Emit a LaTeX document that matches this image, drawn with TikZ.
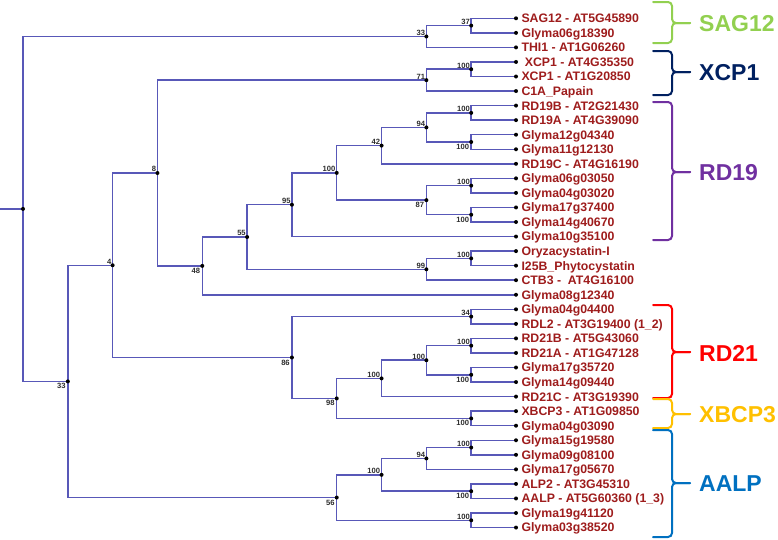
\documentclass[tikz,border=0pt]{standalone}
\usepackage{fontspec}
\setmainfont{Liberation Sans}
\definecolor{treeblue}{RGB}{88,88,184}
\definecolor{labred}{RGB}{158,28,28}
\definecolor{bsgray}{RGB}{45,45,45}
\definecolor{cSAG}{RGB}{146,208,80}
\definecolor{cXCP}{RGB}{0,32,96}
\definecolor{cRD19}{RGB}{112,48,160}
\definecolor{cRD21}{RGB}{255,0,0}
\definecolor{cXBCP}{RGB}{255,192,0}
\definecolor{cAALP}{RGB}{0,112,192}
\begin{document}
\begin{tikzpicture}[x=1pt,y=-1pt,
  edge/.style={line width=1.5pt, draw=treeblue},
  leaflab/.style={anchor=base west, inner sep=0pt, text=labred, font=\fontsize{12.3}{14}\selectfont\bfseries},
  bsal/.style={anchor=south east, inner sep=0pt, xshift=-1.2pt, yshift=0.8pt, text=bsgray, font=\fontsize{7.6}{8}\selectfont\bfseries},
  bsbl/.style={anchor=north east, inner sep=0pt, xshift=-2pt, yshift=-2pt, text=bsgray, font=\fontsize{7.6}{8}\selectfont\bfseries},
  brace/.style={line width=2pt, rounded corners=4pt, line cap=round},
  grouplab/.style={anchor=west, inner sep=0pt, font=\fontsize{23}{26}\selectfont\bfseries}
]
\useasboundingbox (0,0) rectangle (778,539);

% leaves
\foreach \i/\t in {
 1/{SAG12 - AT5G45890}, 2/{Glyma06g18390}, 3/{THI1 - AT1G06260},
 4/{\hspace{3.3pt}XCP1 - AT4G35350}, 5/{XCP1 - AT1G20850}, 6/{C1A\_Papain},
 7/{RD19B - AT2G21430}, 8/{RD19A - AT4G39090}, 9/{Glyma12g04340},
 10/{Glyma11g12130}, 11/{RD19C - AT4G16190}, 12/{Glyma06g03050},
 13/{Glyma04g03020}, 14/{Glyma17g37400}, 15/{Glyma14g40670},
 16/{Glyma10g35100}, 17/{Oryzacystatin-I}, 18/{I25B\_Phytocystatin},
 19/{CTB3 -\ \ AT4G16100}, 20/{Glyma08g12340}, 21/{Glyma04g04400},
 22/{RDL2 - AT3G19400 (1\_2)}, 23/{RD21B - AT5G43060}, 24/{RD21A - AT1G47128},
 25/{Glyma17g35720}, 26/{Glyma14g09440}, 27/{RD21C - AT3G19390},
 28/{XBCP3 - AT1G09850}, 29/{Glyma04g03090}, 30/{Glyma15g19580},
 31/{Glyma09g08100}, 32/{Glyma17g05670}, 33/{ALP2 - AT3G45310},
 34/{AALP - AT5G60360 (1\_3)}, 35/{Glyma19g41120}, 36/{Glyma03g38520}}{
  \coordinate (L\i) at (516,{18.3+(\i-1)*14.55});
  \node[leaflab] (T\i) at ([shift={(5.3pt,-4.4pt)}]L\i) {\t};
}

% internal nodes
\coordinate (rin) at (0,208.9);
\coordinate (root) at (23,208.9);
\coordinate (b33) at (67.82,381.4);
\coordinate (a4) at (112.64,265.25);
\coordinate (a8) at (157.46,173.01);
\coordinate (a48) at (202.28,265.88);
\coordinate (a55) at (247.1,237.0);
\coordinate (a95) at (291.92,204.72);
\coordinate (a86) at (291.92,357.5);
\coordinate (g100) at (336.74,172.89);
\coordinate (a98) at (336.74,398.42);
\coordinate (a56) at (336.74,497.54);
\coordinate (a42) at (381.56,145.61);
\coordinate (l100) at (381.56,378.41);
\coordinate (p100) at (381.56,474.81);
\coordinate (a33) at (426.38,36.49);
\coordinate (a71) at (426.38,80.14);
\coordinate (a94) at (426.38,127.425);
\coordinate (a87) at (426.38,200.175);
\coordinate (a99) at (426.38,269.29);
\coordinate (k100) at (426.38,360.225);
\coordinate (b94) at (426.38,458.44);
\coordinate (a37) at (471.2,25.575);
\coordinate (b100) at (471.2,69.225);
\coordinate (c100) at (471.2,112.875);
\coordinate (d100) at (471.2,141.975);
\coordinate (e100) at (471.2,185.625);
\coordinate (f100) at (471.2,214.725);
\coordinate (h100) at (471.2,258.375);
\coordinate (a34) at (471.2,316.575);
\coordinate (i100) at (471.2,345.675);
\coordinate (j100) at (471.2,374.775);
\coordinate (m100) at (471.2,418.425);
\coordinate (n100) at (471.2,447.525);
\coordinate (o100) at (471.2,491.175);
\coordinate (q100) at (471.2,520.275);

% edges
\draw[edge] (rin) -- (root);
\foreach \p/\c in {root/a33, root/b33, a33/a37, a33/L3, a37/L1, a37/L2,
  b33/a4, b33/a56, a4/a8, a4/a86, a8/a71, a8/a48, a71/b100, a71/L6,
  b100/L4, b100/L5, a48/a55, a48/L20, a55/a95, a55/a99, a95/g100, a95/L16,
  g100/a42, g100/a87, a42/a94, a42/L11, a94/c100, a94/d100, c100/L7, c100/L8,
  d100/L9, d100/L10, a87/e100, a87/f100, e100/L12, e100/L13, f100/L14, f100/L15,
  a99/h100, a99/L19, h100/L17, h100/L18, a86/a34, a86/a98, a34/L21, a34/L22,
  a98/l100, a98/m100, l100/k100, l100/L27, k100/i100, k100/j100,
  i100/L23, i100/L24, j100/L25, j100/L26, m100/L28, m100/L29,
  a56/p100, a56/q100, p100/b94, p100/o100, b94/n100, b94/L32,
  n100/L30, n100/L31, o100/L33, o100/L34, q100/L35, q100/L36}{
  \draw[edge] (\p) |- (\c);
}

% dots
\foreach \n in {root,b33,a4,a8,a48,a55,a95,a86,g100,a98,a56,a42,l100,p100,
  a33,a71,a94,a87,a99,k100,b94,a37,b100,c100,d100,e100,f100,h100,a34,
  i100,j100,m100,n100,o100,q100}{
  \fill (\n) circle (2pt);
}
\foreach \i in {1,...,36}{ \fill (L\i) circle (2pt); }

% bootstrap values
\foreach \n/\v in {a37/37, a33/33, b100/100, a71/71, c100/100, a94/94, a42/42,
  e100/100, g100/100, a95/95, a55/55, h100/100, a99/99, a8/8, a4/4, a34/34,
  i100/100, k100/100, l100/100, n100/100, b94/94, p100/100, q100/100}{
  \node[bsal] (bs\n) at (\n) {\v};
}
\foreach \n/\v in {d100/100, a87/87, f100/100, a48/48, j100/100, m100/100,
  a98/98, a86/86, o100/100, a56/56, b33/33}{
  \node[bsbl] (bs\n) at (\n) {\v};
}

% group braces
\foreach \c/\t/\m/\b/\lab in {cSAG/2/23/43/SAG12, cXCP/51/72/95/XCP1,
  cRD19/102/172/240/RD19, cRD21/305/352/398/RD21, cXBCP/399/414/428/XBCP3,
  cAALP/430/483/537/AALP}{
  \draw[brace, draw=\c] (653,\t) -| (672,\m) -- (690,\m);
  \draw[brace, draw=\c] (690,\m) -- (672,\m) |- (653,\b);
  \node[grouplab, text=\c] (G\lab) at (699,\m+1) {\lab};
}
\end{tikzpicture}
\end{document}
